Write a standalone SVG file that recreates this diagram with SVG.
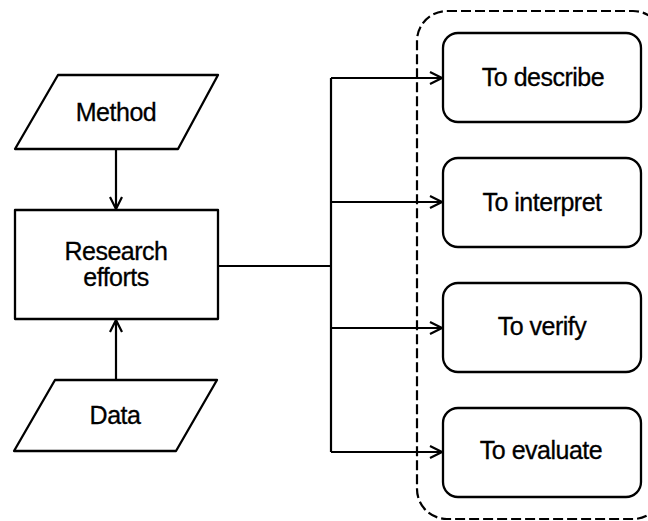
<svg xmlns="http://www.w3.org/2000/svg" width="648" height="521" viewBox="0 0 648 521">
  <style>
    .shape { fill: #fff; stroke: #000; stroke-width: 2.3; stroke-linejoin: round; }
    .line { fill: none; stroke: #000; stroke-width: 2.2; }
    .group { fill: none; stroke: #000; stroke-width: 2.2; stroke-dasharray: 10 4; }
    text { font-family: "Liberation Sans", Arial, Helvetica, sans-serif; font-size: 25px; letter-spacing: -0.5px; fill: #000; stroke: #000; stroke-width: 0.3; text-anchor: middle; }
  </style>
  <defs>
    <marker id="arrow" viewBox="0 0 14 14" refX="13" refY="7" markerWidth="14" markerHeight="14" markerUnits="userSpaceOnUse" orient="auto">
      <path d="M1,1 L13,7 L1,13" fill="none" stroke="#000" stroke-width="2.2"/>
    </marker>
  </defs>
  <rect fill="#fff" width="648" height="521"/>

  <!-- dashed enclosure around the purposes -->
  <rect id="purposes" class="group" x="417" y="11" width="246" height="508" rx="30" ry="30"/>

  <g id="connectors">
    <line class="line" x1="116" y1="149" x2="116" y2="209" marker-end="url(#arrow)"/>
    <line class="line" x1="116" y1="380" x2="116" y2="320" marker-end="url(#arrow)"/>
    <polyline class="line" points="218,266 331,266"/>
    <polyline class="line" points="331,78 331,452"/>
    <line class="line" x1="331" y1="78" x2="442" y2="78" marker-end="url(#arrow)"/>
    <line class="line" x1="331" y1="202" x2="442" y2="202" marker-end="url(#arrow)"/>
    <line class="line" x1="331" y1="328" x2="442" y2="328" marker-end="url(#arrow)"/>
    <line class="line" x1="331" y1="452" x2="442" y2="452" marker-end="url(#arrow)"/>
  </g>

  <g id="method">
    <polygon class="shape" points="58,75 218,75 178,149 15,149"/>
    <text x="116" y="121">Method</text>
  </g>

  <g id="research-efforts">
    <rect class="shape" x="15" y="210" width="203" height="109"/>
    <text x="116" y="260">Research</text>
    <text x="116" y="286">efforts</text>
  </g>

  <g id="data">
    <polygon class="shape" points="55,380 217,380 176,451 14,451"/>
    <text x="115" y="424">Data</text>
  </g>

  <g id="to-describe">
    <rect class="shape" x="443" y="33" width="198" height="89" rx="15" ry="15"/>
    <text x="543" y="86">To describe</text>
  </g>

  <g id="to-interpret">
    <rect class="shape" x="443" y="158" width="198" height="89" rx="15" ry="15"/>
    <text x="542" y="211">To interpret</text>
  </g>

  <g id="to-verify">
    <rect class="shape" x="443" y="283" width="198" height="89" rx="15" ry="15"/>
    <text x="542" y="335">To verify</text>
  </g>

  <g id="to-evaluate">
    <rect class="shape" x="443" y="408" width="198" height="89" rx="15" ry="15"/>
    <text x="541" y="459">To evaluate</text>
  </g>
</svg>
